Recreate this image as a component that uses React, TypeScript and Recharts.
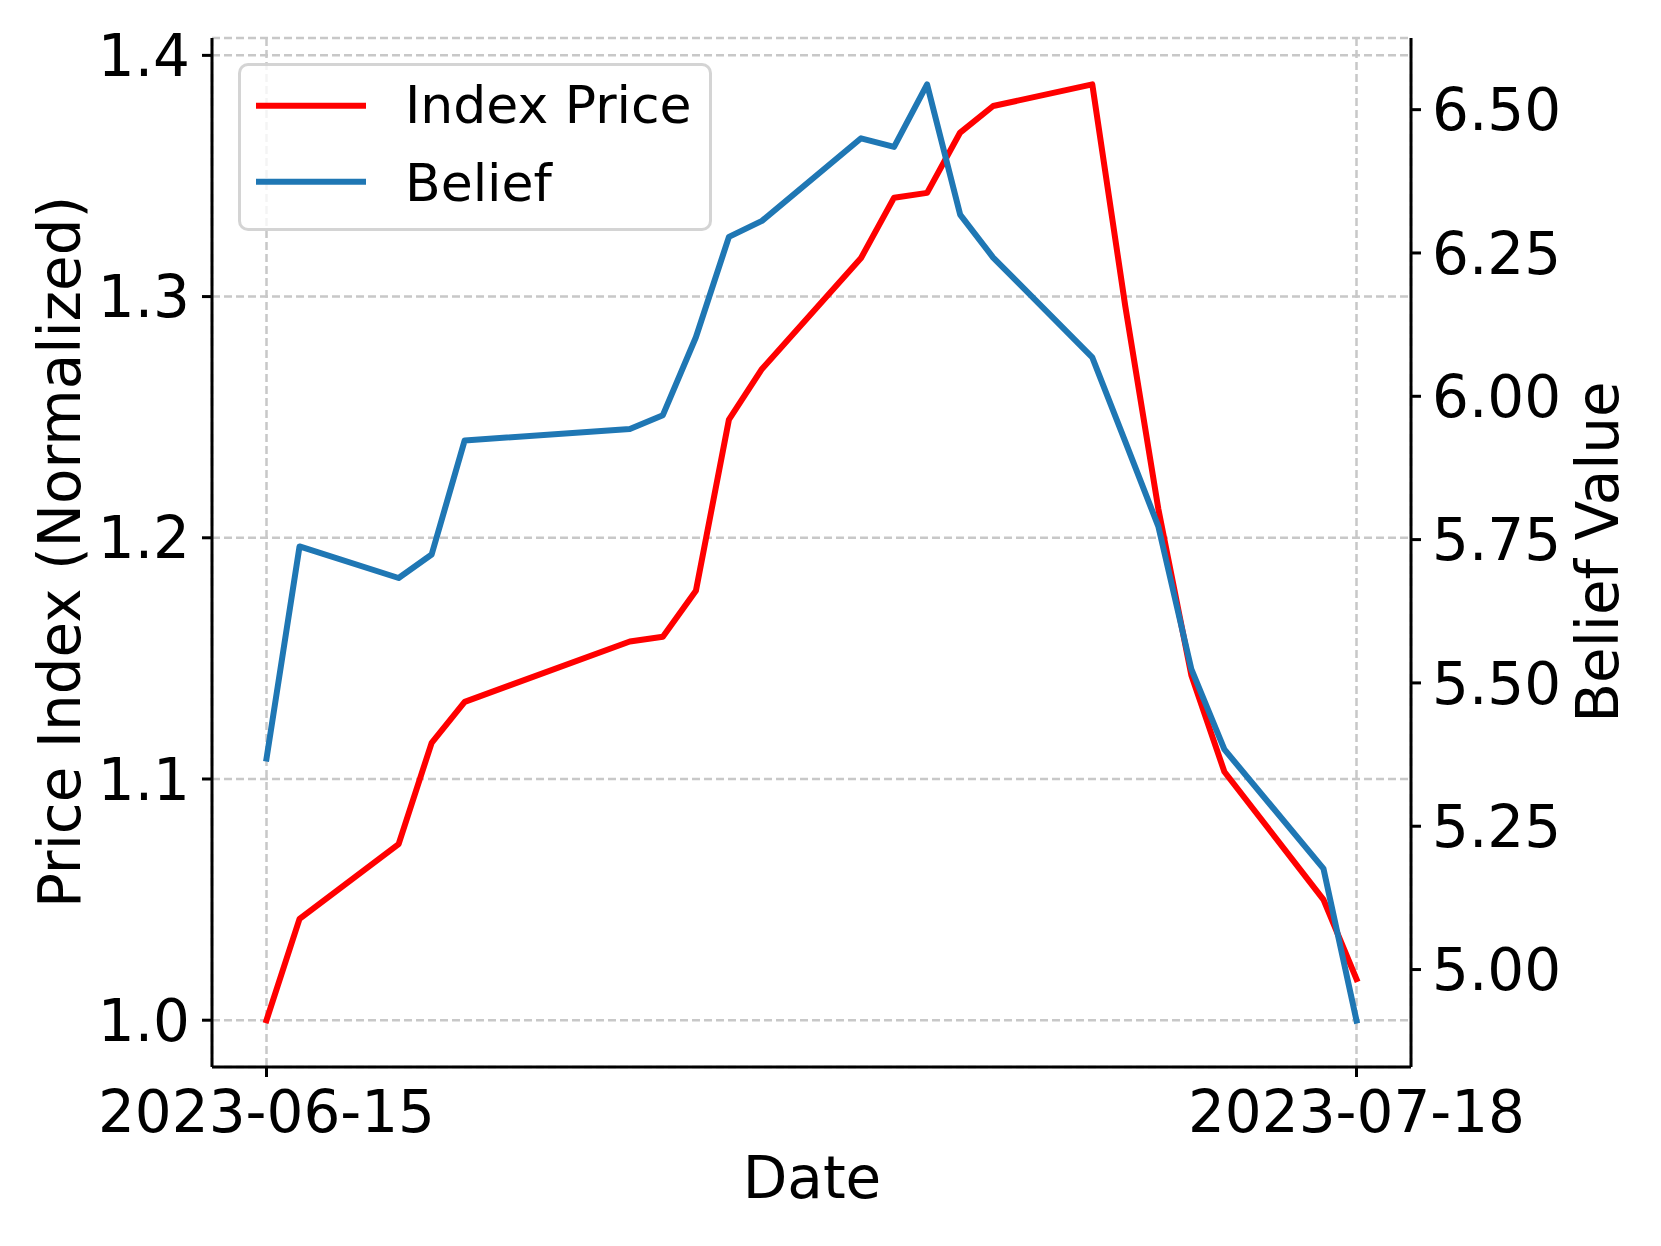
import React from "react";
import {
  LineChart, Line, XAxis, YAxis, CartesianGrid, Label,
} from "recharts";

// trading days
const dates = [
  "2023-06-15", "2023-06-16", "2023-06-19", "2023-06-20", "2023-06-21",
  "2023-06-26", "2023-06-27", "2023-06-28", "2023-06-29", "2023-06-30",
  "2023-07-03", "2023-07-04", "2023-07-05", "2023-07-06", "2023-07-07",
  "2023-07-10", "2023-07-11", "2023-07-12", "2023-07-13", "2023-07-14",
  "2023-07-17", "2023-07-18",
];
const indexPrice = [
  1.000, 1.042, 1.073, 1.115, 1.132,
  1.157, 1.159, 1.178, 1.249, 1.270,
  1.316, 1.341, 1.343, 1.368, 1.379,
  1.388, 1.296, 1.212, 1.143, 1.103,
  1.050, 1.017,
];
const belief = [
  5.368, 5.738, 5.683, 5.724, 5.923,
  5.943, 5.967, 6.103, 6.278, 6.306,
  6.450, 6.435, 6.544, 6.317, 6.242,
  6.068, 5.921, 5.773, 5.524, 5.384,
  5.176, 4.911,
];
const xTickDates = ["2023-06-15", "2023-07-18"];
const leftTicks = [1.0, 1.1, 1.2, 1.3, 1.4];
const rightTicks = [5.0, 5.25, 5.5, 5.75, 6.0, 6.25, 6.5];

const DAY = 86400000;
const t0 = Date.parse(dates[0]);
const dayOf = (d: string) => Math.round((Date.parse(d) - t0) / DAY);

const data = dates.map((d, i) => ({
  day: dayOf(d),
  price: indexPrice[i],
  belief: belief[i],
}));

const FONT = "DejaVu Sans";
const FS = 58;
const W = 1661;
const H = 1246;

const App = () => {
  const tickStyle = { fontSize: FS, fill: "#000", fontFamily: FONT };
  const axisLine = { stroke: "#000", strokeWidth: 3 };
  const tickLine = { stroke: "#000", strokeWidth: 3 };

  return (
    <div style={{ position: "absolute", left: 0, top: 0, width: W, height: H, background: "#fff", fontFamily: FONT }}>
      <LineChart
        width={W}
        height={H}
        data={data}
        margin={{ top: 38, right: 150, bottom: 99, left: 112 }}
      >
        <CartesianGrid
          yAxisId="left"
          stroke="#c8c8c8"
          strokeWidth={2.5}
          strokeDasharray="8 4"
        />
        <XAxis
          dataKey="day"
          type="number"
          domain={[-1.65, 34.65]}
          allowDataOverflow
          ticks={xTickDates.map(dayOf)}
          tickFormatter={(v: number) => dates.find((d) => dayOf(d) === v) ?? ""}
          tick={tickStyle}
          tickSize={10}
          tickMargin={14}
          height={80}
          axisLine={axisLine}
          tickLine={tickLine}
          interval={0}
        >
          <Label
            content={() => (
              <text x={812} y={1198} textAnchor="middle" fontSize={FS} fontFamily={FONT} fill="#000">
                Date
              </text>
            )}
          />
        </XAxis>
        <XAxis
          xAxisId="top"
          orientation="top"
          dataKey="day"
          type="number"
          domain={[-1.65, 34.65]}
          height={0}
          tick={false}
          tickLine={false}
          axisLine={axisLine}
        />
        <YAxis
          yAxisId="left"
          type="number"
          domain={[0.9806, 1.4072]}
          allowDataOverflow
          ticks={leftTicks}
          tickFormatter={(v: number) => v.toFixed(1)}
          tick={tickStyle}
          tickSize={10}
          tickMargin={12}
          width={100}
          axisLine={axisLine}
          tickLine={tickLine}
          interval={0}
        >
          <Label
            content={() => (
              <text
                x={80}
                y={552}
                transform="rotate(-90, 80, 552)"
                textAnchor="middle"
                fontSize={FS}
                fontFamily={FONT}
                fill="#000"
              >
                Price Index (Normalized)
              </text>
            )}
          />
        </YAxis>
        <YAxis
          yAxisId="right"
          orientation="right"
          type="number"
          domain={[4.83, 6.625]}
          allowDataOverflow
          ticks={rightTicks}
          tickFormatter={(v: number) => v.toFixed(2)}
          tick={tickStyle}
          tickSize={10}
          tickMargin={11}
          width={100}
          axisLine={axisLine}
          tickLine={tickLine}
          interval={0}
        >
          <Label
            content={() => (
              <text
                x={1618}
                y={552}
                transform="rotate(-90, 1618, 552)"
                textAnchor="middle"
                fontSize={FS}
                fontFamily={FONT}
                fill="#000"
              >
                Belief Value
              </text>
            )}
          />
        </YAxis>
        <Line
          yAxisId="left"
          type="linear"
          dataKey="price"
          stroke="#ff0000"
          strokeWidth={6}
          strokeLinejoin="round"
          strokeLinecap="square"
          dot={false}
          isAnimationActive={false}
        />
        <Line
          yAxisId="right"
          type="linear"
          dataKey="belief"
          stroke="#1f77b4"
          strokeWidth={6}
          strokeLinejoin="round"
          strokeLinecap="square"
          dot={false}
          isAnimationActive={false}
        />
      </LineChart>

      {/* legend box, upper left */}
      <div
        style={{
          position: "absolute", left: 238, top: 63, width: 474, height: 168,
          boxSizing: "border-box", border: "3px solid rgba(204,204,204,0.85)",
          borderRadius: 10, background: "rgba(255,255,255,0.8)",
        }}
      >
        <svg width={474} height={168} style={{ position: "absolute", left: -3, top: -3 }}>
          <line x1={18} x2={128} y1={42.7} y2={42.7} stroke="#ff0000" strokeWidth={6} />
          <text x={167} y={60.3} fontSize={52} fontFamily={FONT} fill="#000">Index Price</text>
          <line x1={18} x2={128} y1={118.7} y2={118.7} stroke="#1f77b4" strokeWidth={6} />
          <text x={167} y={138} fontSize={52} fontFamily={FONT} fill="#000">Belief</text>
        </svg>
      </div>
    </div>
  );
};

export default App;
